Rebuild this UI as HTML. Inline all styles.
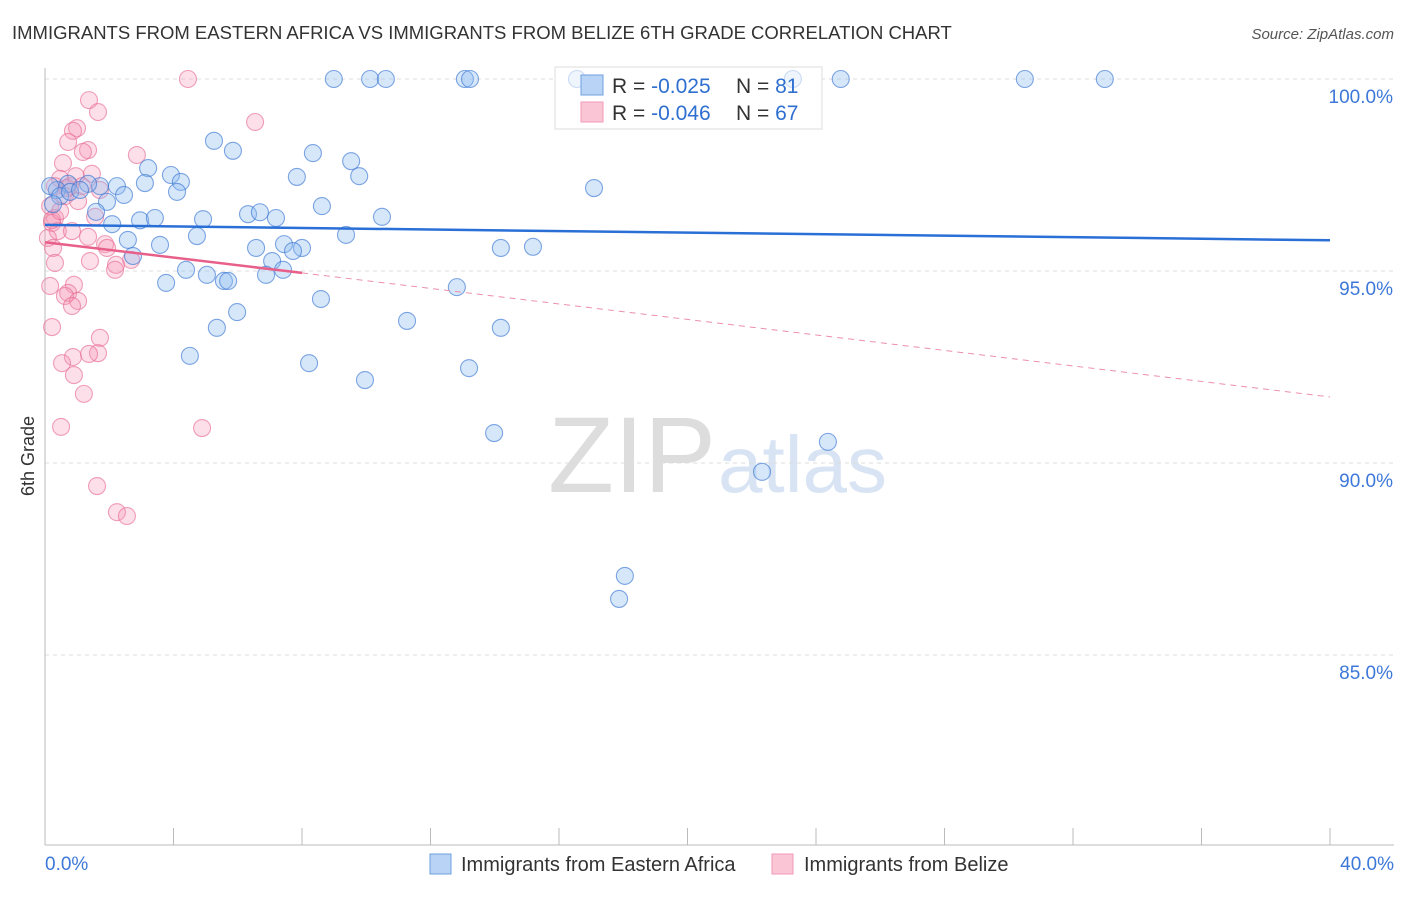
<!DOCTYPE html>
<html><head><meta charset="utf-8"><style>
body{margin:0;background:#fff;font-family:"Liberation Sans",sans-serif}
svg text{font-family:"Liberation Sans",sans-serif}
</style></head><body>
<svg id="c" width="1406" height="892" xmlns="http://www.w3.org/2000/svg">
<text x="12" y="39" font-size="18.5" fill="#333">IMMIGRANTS FROM EASTERN AFRICA VS IMMIGRANTS FROM BELIZE 6TH GRADE CORRELATION CHART</text>
<text x="1394" y="39" font-size="15" fill="#555" font-style="italic" text-anchor="end">Source: ZipAtlas.com</text>
<text x="716" y="492" font-size="108" fill="#ddd" text-anchor="end" font-family="Liberation Serif">ZIP</text>
<text x="718" y="492" font-size="80" fill="#d8e4f4">atlas</text>
<g id="grid"></g><g id="axes"></g>
<g>
<rect x="555" y="67" width="267" height="62" fill="#fff" stroke="#ddd"/>
</g>
<g id="pts"></g><g id="trend"></g>
<text transform="translate(34,456) rotate(-90)" font-size="18" fill="#333" text-anchor="middle">6th Grade</text>
<g>
<rect x="555" y="67" width="267" height="62" fill="rgba(255,255,255,0.6)" stroke="#ddd"/>
<rect x="581" y="75" width="22" height="20" fill="#b8d3f5" stroke="#6fa0e0"/>
<rect x="581" y="102" width="22" height="20" fill="#fac5d5" stroke="#f09ab5"/>
<text x="612" y="93" font-size="21" fill="#333">R = <tspan fill="#2f6fd0">-0.025</tspan></text>
<text x="736" y="93" font-size="21" fill="#333">N = <tspan fill="#2f6fd0">81</tspan></text>
<text x="612" y="120" font-size="21" fill="#333">R = <tspan fill="#2f6fd0">-0.046</tspan></text>
<text x="736" y="120" font-size="21" fill="#333">N = <tspan fill="#2f6fd0">67</tspan></text>
</g>
<g>
<rect x="430" y="854" width="21" height="20" fill="#b8d3f5" stroke="#6fa0e0"/>
<text x="461" y="871" font-size="20" fill="#333">Immigrants from Eastern Africa</text>
<rect x="772" y="854" width="21" height="20" fill="#fac5d5" stroke="#f09ab5"/>
<text x="804" y="871" font-size="20" fill="#333">Immigrants from Belize</text>
</g>
</svg>
<script>
const yTicks=[100,95,90,85];
const yTickLabels=["100.0%","95.0%","90.0%","85.0%"];
const xTickLabels=["0.0%","40.0%"];
const blueX=[8.99,10.12,10.61,13.07,13.23,16.56,23.28,24.77,30.50,32.99,5.26,5.85,8.34,9.53,3.21,9.78,7.84,3.92,3.11,4.23,2.24,1.71,1.34,0.72,0.37,1.93,2.46,4.11,17.09,8.62,4.92,6.32,6.69,7.19,10.49,1.59,2.09,2.96,3.42,4.73,2.58,3.58,9.37,6.57,7.44,8.00,7.72,14.19,15.19,7.07,2.74,4.39,5.04,5.57,5.70,6.88,7.41,3.77,12.82,8.59,5.98,11.27,14.19,5.35,4.51,8.22,9.96,13.20,13.98,24.37,22.32,18.05,17.87,0.16,0.47,0.78,1.09,0.25];
const blueY=[100,100,100,100,100,100,100,100,100,100,98.39,98.13,98.07,97.86,97.68,97.47,97.45,97.50,97.29,97.32,97.21,97.21,97.27,97.27,97.11,96.80,96.98,97.06,97.16,96.69,96.35,96.48,96.53,96.38,96.41,96.54,96.22,96.32,96.38,95.91,95.81,95.68,95.94,95.60,95.70,95.60,95.52,95.60,95.63,95.26,95.39,95.03,94.90,94.74,94.74,94.90,95.03,94.69,94.58,94.27,93.93,93.70,93.52,93.52,92.79,92.60,92.16,92.47,90.78,90.55,89.77,87.06,86.46,97.21,96.95,97.06,97.11,96.74];
const pinkX=[4.45,1.37,1.65,6.54,0.997,0.87,0.72,1.34,1.18,2.86,0.56,0.96,1.46,0.47,0.31,0.78,0.62,1.03,0.16,0.31,0.22,0.40,0.84,1.34,0.09,1.56,0.25,1.87,1.93,2.68,1.40,2.21,2.18,0.31,0.90,0.16,0.72,0.62,1.03,0.84,0.22,1.71,0.87,1.65,1.37,0.53,0.90,1.21,0.50,4.89,1.62,2.24,2.55,0.22,0.47,0.68,1.15,1.71];
const pinkY=[100,99.45,99.14,98.88,98.72,98.65,98.36,98.15,98.10,98.02,97.81,97.47,97.53,97.40,97.21,97.21,96.95,96.82,96.69,96.38,96.25,96.04,96.04,95.89,95.86,96.41,95.60,95.70,95.60,95.29,95.26,95.16,95.03,95.21,94.64,94.61,94.43,94.35,94.22,94.09,93.54,93.26,92.76,92.86,92.84,92.60,92.29,91.80,90.94,90.91,89.40,88.72,88.62,96.33,96.56,97.16,97.21,97.11];
const blueTrend=[96.2,95.8];
const pinkTrend=[95.75,94.95,91.72];
const NS="http://www.w3.org/2000/svg";
const X=v=>45+v/40*1285, Y=v=>79+(100-v)*38.4;
function mk(t,a,p){const e=document.createElementNS(NS,t);for(const k in a)e.setAttribute(k,a[k]);p.appendChild(e);return e;}
const grid=document.getElementById('grid'),axes=document.getElementById('axes'),pts=document.getElementById('pts'),tr=document.getElementById('trend');
yTicks.forEach((v,i)=>{
 const l=mk('line',{x1:45,x2:1394,y1:Y(v),y2:Y(v),stroke:'#ddd','stroke-dasharray':'4,4'},grid);
 
 
 const t=mk('text',{x:1393,y:Y(v)+24,'font-size':19,fill:'#3d78d8','text-anchor':'end'},axes);t.textContent=yTickLabels[i];
 
 
});
const ax=mk('line',{x1:45,x2:45,y1:68,y2:845,stroke:'#bbb'},axes);


const bx=mk('line',{x1:45,x2:1394,y1:845,y2:845,stroke:'#bbb'},axes);


for(let i=0;i<=10;i++){const t=mk('line',{x1:X(i*4),x2:X(i*4),y1:828,y2:845,stroke:'#bbb'},axes);
 
 }
[[0,'start',45],[40,'end',1394]].forEach((d,i)=>{const t=mk('text',{x:d[2],y:870,'font-size':19,fill:'#3d78d8','text-anchor':d[1]},axes);t.textContent=xTickLabels[i];
 
 });
pinkX.forEach((x,i)=>{const c=mk('circle',{cx:X(x),cy:Y(pinkY[i]),r:8.5,fill:'rgba(245,150,180,0.3)',stroke:'rgba(232,110,150,0.65)','stroke-width':1.1},pts);
 
 });
blueX.forEach((x,i)=>{const c=mk('circle',{cx:X(x),cy:Y(blueY[i]),r:8.5,fill:'rgba(140,185,240,0.35)',stroke:'rgba(60,120,210,0.65)','stroke-width':1.1},pts);
 
 });
const bt=mk('line',{x1:X(0),y1:Y(blueTrend[0]),x2:X(40),y2:Y(blueTrend[1]),stroke:'#2a6fd6','stroke-width':2.5},tr);


const pt=mk('line',{x1:X(0),y1:Y(pinkTrend[0]),x2:X(8),y2:Y(pinkTrend[1]),stroke:'#e8608a','stroke-width':2.5},tr);


const pd=mk('line',{x1:X(8),y1:Y(pinkTrend[1]),x2:X(40),y2:Y(pinkTrend[2]),stroke:'#ec8fac','stroke-width':1,'stroke-dasharray':'6,5'},tr);


</script>
</body></html>
